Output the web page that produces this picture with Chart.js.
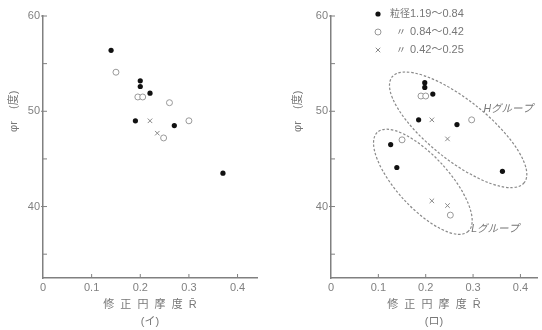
<!DOCTYPE html>
<html>
<head>
<meta charset="utf-8">
<script src="https://cdn.jsdelivr.net/npm/chart.js@4"></script>
<style>
  body { margin: 0; background: #fff; }
  #wrap { position: relative; width: 542px; height: 330px; }
  .box { position: absolute; top: 0; width: 271px; height: 330px; }
</style>
</head>
<body>
<div id="wrap">
  <div class="box" style="left:0"><canvas id="chartA" width="271" height="330"></canvas></div>
  <div class="box" style="left:271px"><canvas id="chartB" width="271" height="330"></canvas></div>
</div>
<script>
// axis ticks
const xTicks = [0, 0.1, 0.2, 0.3, 0.4];
const yTicks = [35, 40, 45, 50, 55, 60];
const seriesLabels = ['1.19～0.84', '0.84～0.42', '0.42～0.25'];
const xTitle = '修  正  円  摩  度  R̄';
const yTitle = 'φr    (度)';

// (イ) values
const coarseA = [
  {x: 0.14, y: 56.4}, {x: 0.20, y: 53.2}, {x: 0.20, y: 52.6}, {x: 0.22, y: 51.9},
  {x: 0.19, y: 49.0}, {x: 0.27, y: 48.5}, {x: 0.37, y: 43.5}
];
const mediumA = [
  {x: 0.15, y: 54.1}, {x: 0.195, y: 51.5}, {x: 0.205, y: 51.5}, {x: 0.26, y: 50.9},
  {x: 0.30, y: 49.0}, {x: 0.248, y: 47.2}
];
const fineA = [
  {x: 0.22, y: 49.0}, {x: 0.235, y: 47.7}
];

// (ロ) values
const coarseB = [
  {x: 0.198, y: 53.0}, {x: 0.198, y: 52.5}, {x: 0.215, y: 51.8}, {x: 0.185, y: 49.1},
  {x: 0.266, y: 48.6}, {x: 0.126, y: 46.5}, {x: 0.139, y: 44.1}, {x: 0.362, y: 43.7}
];
const mediumB = [
  {x: 0.19, y: 51.6}, {x: 0.20, y: 51.6}, {x: 0.297, y: 49.1}, {x: 0.15, y: 47.0},
  {x: 0.252, y: 39.1}
];
const fineB = [
  {x: 0.213, y: 49.1}, {x: 0.246, y: 47.1}, {x: 0.213, y: 40.6}, {x: 0.246, y: 40.1}
];

// group outlines: ends of the long axis in data units
const groups = [
  {name: 'Hグループ', from: [0.129, 53.6], to: [0.408, 42.5], labelAt: [0.322, 50.2]},
  {name: 'Lグループ', from: [0.098, 47.8], to: [0.290, 37.4], labelAt: [0.296, 37.6]}
];
const groupHalfWidth = [30, 26];

const FONT = "'Liberation Sans', 'Noto Sans CJK JP', sans-serif";
const GREY = '#808080';

function datasets(coarse, medium, fine) {
  return [
    {label: seriesLabels[0], data: coarse, pointStyle: 'circle', pointRadius: 2.6,
     backgroundColor: '#111', borderColor: '#111', borderWidth: 0},
    {label: seriesLabels[1], data: medium, pointStyle: 'circle', pointRadius: 3,
     backgroundColor: '#fff', borderColor: '#999', borderWidth: 1},
    {label: seriesLabels[2], data: fine, pointStyle: 'crossRot', pointRadius: 3.2,
     backgroundColor: '#888', borderColor: '#888', borderWidth: 1}
  ];
}

const decor = {
  id: 'decor',
  afterDraw(chart, args, opts) {
    const ctx = chart.ctx;
    const xs = chart.scales.x, ys = chart.scales.y;
    const area = chart.chartArea;
    ctx.save();
    // inside tick marks
    ctx.strokeStyle = GREY;
    ctx.lineWidth = 1;
    ctx.beginPath();
    xTicks.forEach(v => {
      if (v === 0) return;
      const px = xs.getPixelForValue(v);
      ctx.moveTo(px, area.bottom);
      ctx.lineTo(px, area.bottom - 4);
    });
    yTicks.forEach(v => {
      const py = ys.getPixelForValue(v);
      ctx.moveTo(area.left - (v % 10 === 0 ? 2 : 0), py);
      ctx.lineTo(area.left + 4, py);
    });
    ctx.stroke();

    // y title
    ctx.fillStyle = '#777';
    ctx.font = '11px ' + FONT;
    ctx.textAlign = 'center';
    ctx.textBaseline = 'middle';
    ctx.translate(opts.yTitleX, ys.getPixelForValue(50));
    ctx.rotate(-Math.PI / 2);
    ctx.fillText(yTitle, 0, 0);
    ctx.restore();

    if (opts.groups) {
      ctx.save();
      ctx.strokeStyle = '#8a8a8a';
      ctx.lineWidth = 1.2;
      ctx.setLineDash([2.5, 1.8]);
      opts.groups.forEach((g, i) => {
        const x1 = xs.getPixelForValue(g.from[0]), y1 = ys.getPixelForValue(g.from[1]);
        const x2 = xs.getPixelForValue(g.to[0]), y2 = ys.getPixelForValue(g.to[1]);
        const cx = (x1 + x2) / 2, cy = (y1 + y2) / 2;
        const a = Math.hypot(x2 - x1, y2 - y1) / 2;
        const rot = Math.atan2(y2 - y1, x2 - x1);
        ctx.beginPath();
        ctx.ellipse(cx, cy, a, groupHalfWidth[i], rot, 0, Math.PI * 2);
        ctx.stroke();
      });
      ctx.setLineDash([]);
      ctx.fillStyle = '#777';
      ctx.font = 'italic 10.5px ' + FONT;
      ctx.textAlign = 'left';
      ctx.textBaseline = 'middle';
      opts.groups.forEach(g => {
        ctx.fillText(g.name, xs.getPixelForValue(g.labelAt[0]), ys.getPixelForValue(g.labelAt[1]));
      });
      ctx.restore();
    }

    if (opts.legend) {
      ctx.save();
      ctx.textBaseline = 'middle';
      chart.data.datasets.forEach((ds, i) => {
        const y = 14 + i * 18;
        ctx.fillStyle = ds.backgroundColor;
        ctx.strokeStyle = ds.borderColor;
        ctx.lineWidth = ds.borderWidth || 1;
        ctx.beginPath();
        if (ds.pointStyle === 'circle') {
          ctx.arc(107, y, ds.pointRadius, 0, Math.PI * 2);
          ctx.fill();
          if (ds.borderWidth) ctx.stroke();
        } else {
          const r = ds.pointRadius * Math.SQRT1_2;
          ctx.moveTo(107 - r, y - r); ctx.lineTo(107 + r, y + r);
          ctx.moveTo(107 - r, y + r); ctx.lineTo(107 + r, y - r);
          ctx.stroke();
        }
        ctx.fillStyle = '#777';
        ctx.font = '10px ' + FONT;
        ctx.textAlign = i === 0 ? 'left' : 'center';
        ctx.fillText(i === 0 ? '粒径' : '〃', i === 0 ? 119 : 130, y);
        ctx.textAlign = 'left';
        ctx.font = '11px ' + FONT;
        ctx.fillText(ds.label, 139, y);
      });
      ctx.restore();
    }
  }
};

function makeChart(id, sets, xMax, yWidth, padRight, caption, extra) {
  return new Chart(document.getElementById(id), {
    type: 'scatter',
    data: {datasets: sets},
    options: {
      responsive: false,
      animation: false,
      layout: {padding: {top: 16, right: padRight, left: 0, bottom: 0}},
      plugins: {
        legend: {display: false},
        tooltip: {enabled: false},
        decor: extra
      },
      scales: {
        x: {
          type: 'linear', min: 0, max: xMax,
          afterBuildTicks: s => { s.ticks = xTicks.map(v => ({value: v})); },
          afterFit: s => { s.height = 52; },
          ticks: {
            color: GREY, font: {size: 11, family: FONT}, padding: 3,
            maxRotation: 0, autoSkip: false,
            callback: v => (v === 0 ? '0' : v.toFixed(1))
          },
          grid: {drawOnChartArea: false, drawTicks: false},
          border: {color: GREY, width: 1.5},
          title: {
            display: true, text: [xTitle, caption], color: '#777',
            font: {size: 11, family: FONT, lineHeight: '17px'}, padding: 0
          }
        },
        y: {
          type: 'linear', min: 32.5, max: 60,
          afterBuildTicks: s => { s.ticks = yTicks.map(v => ({value: v})); },
          afterFit: s => { s.width = yWidth; },
          ticks: {
            color: GREY, font: {size: 11, family: FONT}, padding: 3,
            callback: v => (v % 10 === 0 ? String(v) : '')
          },
          grid: {drawOnChartArea: false, drawTicks: false},
          border: {color: GREY, width: 1.5}
        }
      }
    },
    plugins: [decor]
  });
}

makeChart('chartA', datasets(coarseA, mediumA, fineA), 0.44, 43, 14, '(イ)', {yTitleX: 14});
makeChart('chartB', datasets(coarseB, mediumB, fineB), 0.435, 60, 0, '(ロ)',
  {yTitleX: 27, groups: groups, legend: true});
</script>
</body>
</html>
